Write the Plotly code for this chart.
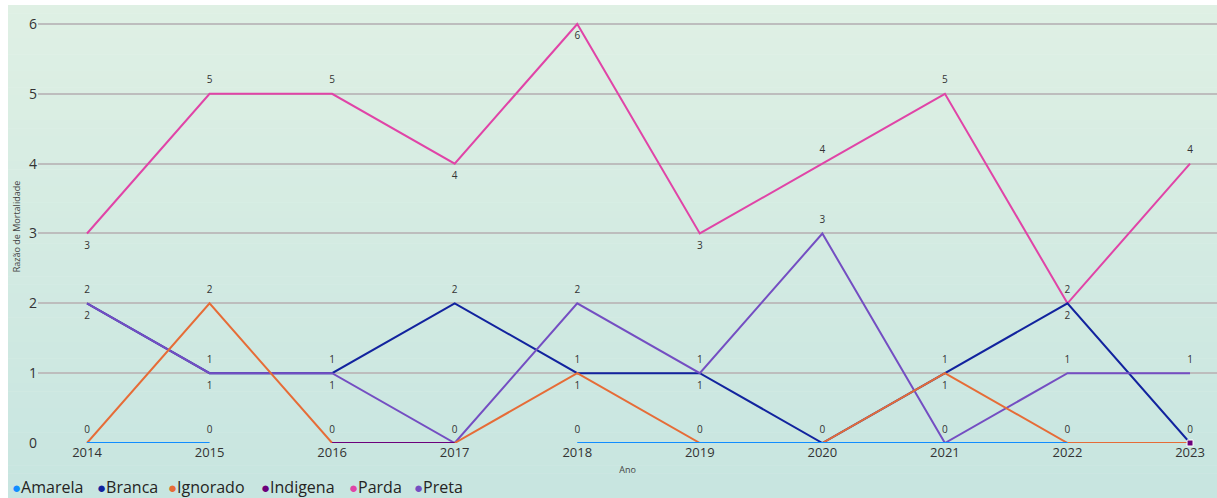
import plotly.graph_objects as go

years = [2014, 2015, 2016, 2017, 2018, 2019, 2020, 2021, 2022, 2023]
amarela = [0, 0, None, None, 0, 0, 0, 0, 0, None]
branca = [2, 1, 1, 2, 1, 1, 0, 1, 2, 0]
ignorado = [0, 2, 0, 0, 1, 0, 0, 1, 0, 0]
indigena = [None, None, 0, 0, None, None, None, None, None, 0]
parda = [3, 5, 5, 4, 6, 3, 4, 5, 2, 4]
preta = [2, 1, 1, 0, 2, 1, 3, 0, 1, 1]
series_names = ["Amarela", "Branca", "Ignorado", "Indigena", "Parda", "Preta"]
series_values = [amarela, branca, ignorado, indigena, parda, preta]
colors = ["#118DFF", "#12239E", "#E66C37", "#6B007B", "#E044A7", "#744EC2"]

T, B = "top center", "bottom center"
label_pos = {
    "Amarela": [T] * 10,
    "Branca": [T] * 10,
    "Ignorado": [T, T, T, T, B, T, T, B, T, T],
    "Indigena": [T] * 10,
    "Parda": [B, T, T, B, B, B, T, T, B, T],
    "Preta": [B, B, B, T, T, B, T, T, T, T],
}
draw_order = ["Parda", "Branca", "Preta", "Ignorado", "Amarela", "Indigena"]

W, H = 1217, 498
ML, MR, MT, MB = 38, 0, 10, 55
PW, PH = W - ML - MR, H - MT - MB


def px2x(px):
    return (px - ML) / PW


def py2y(py):
    return (H - MB - py) / PH


fig = go.Figure()

shown = set()
for name in draw_order:
    i = series_names.index(name)
    vals = series_values[i]
    texts = []
    for j, v in enumerate(vals):
        key = (j, v, label_pos[name][j])
        if v is None or key in shown:
            texts.append("")
        else:
            shown.add(key)
            texts.append(str(v))
    msize, mop = [], []
    for j, v in enumerate(vals):
        prev_ok = j > 0 and vals[j - 1] is not None
        next_ok = j < len(vals) - 1 and vals[j + 1] is not None
        lone = v is not None and not prev_ok and not next_ok
        msize.append(6 if lone else 11)
        mop.append(1 if lone else 0)
    fig.add_trace(go.Scatter(
        x=years, y=vals, name=name, mode="lines+markers+text",
        line=dict(color=colors[i], width=2),
        marker=dict(size=msize, opacity=mop, symbol="square", color=colors[i]),
        text=texts, textposition=label_pos[name],
        textfont=dict(size=10, color="#333333", family="Open Sans"),
        connectgaps=False, cliponaxis=False, showlegend=False,
        hovertemplate=name + " %{x}: %{y}<extra></extra>",
    ))

# background gradient
shapes = []
top_py, bot_py = 5, 498
c_top = (0xDF, 0xF0, 0xE4)
c_bot = (0xC7, 0xE5, 0xE0)
n = 60
for k in range(n):
    y0p = top_py + (bot_py - top_py) * k / n
    y1p = top_py + (bot_py - top_py) * (k + 1) / n
    t = (k + 0.5) / n
    c = tuple(round(c_top[m] + (c_bot[m] - c_top[m]) * t) for m in range(3))
    shapes.append(dict(type="rect", xref="paper", yref="paper", layer="below",
                       x0=px2x(8), x1=px2x(W + 2), y0=py2y(y1p + 0.5), y1=py2y(y0p),
                       fillcolor="rgb(%d,%d,%d)" % c, line=dict(width=0)))

# legend as annotations
legend_x = [10, 95, 166, 259, 347, 412]
annotations = []
for name, col, lx in zip(series_names, colors, legend_x):
    annotations.append(dict(
        xref="paper", yref="paper", x=px2x(lx), y=py2y(487),
        xanchor="left", yanchor="middle", showarrow=False,
        text="<span style='color:%s;font-size:15px'>●</span>%s" % (col, name),
        font=dict(size=16, color="#252423", family="Open Sans"),
    ))

fig.update_layout(
    width=W, height=H,
    margin=dict(l=ML, r=MR, t=MT, b=MB),
    paper_bgcolor="white", plot_bgcolor="rgba(0,0,0,0)",
    shapes=shapes, annotations=annotations,
    showlegend=False,
    font=dict(family="Open Sans", color="#333333"),
    xaxis=dict(
        range=[2014 - 49 / 122.56, 2014 + (W - 87) / 122.56],
        tickvals=years, ticktext=[str(y) for y in years],
        showgrid=False, zeroline=False, showline=False,
        tickfont=dict(size=13, color="#333333"),
        title=dict(text="Ano", font=dict(size=9, color="#444444"), standoff=6),
    ),
    yaxis=dict(
        range=[0, 6.2], tickvals=[0, 1, 2, 3, 4, 5, 6],
        showgrid=True, gridcolor="#BDBDBD", gridwidth=2,
        zeroline=False, showline=False,
        tickfont=dict(size=14, color="#333333"),
        title=dict(text="Razão de Mortalidade", font=dict(size=9, color="#444444"), standoff=6),
    ),
)

fig.write_html("out.html", config={"displayModeBar": False},
               post_script="document.body.style.margin='0';document.body.style.overflow='hidden';")
